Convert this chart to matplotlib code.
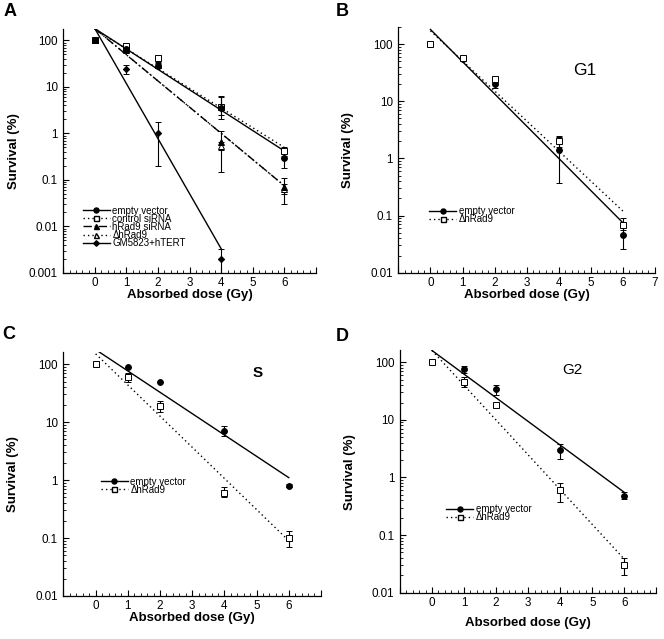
import numpy as np
import matplotlib
matplotlib.use("Agg")
import matplotlib.pyplot as plt
from matplotlib.ticker import FixedLocator, MultipleLocator, LogLocator, NullFormatter, FuncFormatter

plt.rcParams['font.family'] = ['Liberation Sans', 'DejaVu Sans']

# ---------------- data ----------------
dose = [0, 1, 2, 4, 6]

# panel A (asynchronous cells)
a_empty_y = [100, 65, 28, 3.5, 0.3]
a_empty_lo = [100, 65, 25, 2.0, 0.18]
a_empty_hi = [100, 65, 31, 6.3, 0.45]

a_ctrl_y = [100, 78, 42, 3.7, 0.42]
a_ctrl_lo = [100, 72, 38, 2.5, 0.33]
a_ctrl_hi = [100, 84, 46, 6.0, 0.52]

a_sirna_y = [100, 65, 30, 0.65, 0.07]
a_sirna_lo = [100, 62, 27, 0.15, 0.03]
a_sirna_hi = [100, 68, 33, 1.15, 0.11]

a_dh_y = [100, 62, 32, 0.55, 0.065]
a_dh_lo = [100, 60, 30, 0.45, 0.05]
a_dh_hi = [100, 64, 34, 0.65, 0.08]

a_gm_x = [0, 1, 2, 4]
a_gm_y = [100, 24, 1.0, 0.002]
a_gm_lo = [100, 19, 0.2, 0.001]
a_gm_hi = [100, 30, 1.8, 0.0033]

# fitted lines: value at start dose, value at end dose
a_fit_start = [180, 175, 180, 180, 180]
a_fit_end = [0.42, 0.5, 0.075, 0.075, 0.0033]
a_fit_xend = [6, 6, 6, 6, 4]

# panel B (G1)
b_empty_y = [100, 55, 20, 1.4, 0.045]
b_empty_lo = [100, 52, 17, 0.37, 0.026]
b_empty_hi = [100, 58, 23, 2.4, 0.065]
b_dh_y = [100, 58, 24, 2.0, 0.068]
b_dh_lo = [100, 55, 21, 1.6, 0.055]
b_dh_hi = [100, 62, 26, 2.5, 0.09]
b_fit_start = [180, 170]
b_fit_end = [0.075, 0.12]

# panel C (S)
c_empty_y = [100, 90, 50, 7.0, 0.8]
c_empty_lo = [100, 90, 50, 5.8, 0.75]
c_empty_hi = [100, 90, 50, 8.5, 0.85]
c_dh_y = [100, 60, 19, 0.6, 0.1]
c_dh_lo = [100, 50, 15, 0.5, 0.07]
c_dh_hi = [100, 70, 23, 0.75, 0.13]
c_fit_xstart = [0.1, 0]
c_fit_start = [163, 150]
c_fit_end = [1.1, 0.09]

# panel D (G2)
d_empty_y = [100, 75, 34, 3.0, 0.48]
d_empty_lo = [100, 64, 27, 2.1, 0.42]
d_empty_hi = [100, 86, 40, 3.8, 0.56]
d_dh_y = [100, 45, 18, 0.6, 0.03]
d_dh_lo = [100, 37, 17, 0.38, 0.02]
d_dh_hi = [100, 55, 19, 0.8, 0.04]
d_fit_start = [160, 160]
d_fit_end = [0.55, 0.038]


def setup_axes(ax, ymin, ymax, show7=False, xlab_y=-0.066):
    ax.set_yscale('log')
    ax.set_xlim(-1, 7)
    ax.set_ylim(ymin, ymax)
    for s in ['top', 'right']:
        ax.spines[s].set_visible(False)
    for s in ['left', 'bottom']:
        ax.spines[s].set_linewidth(0.9)
    xt = list(range(0, 8 if show7 else 7))
    ax.xaxis.set_major_locator(FixedLocator(list(range(-1, 8))))
    ax.xaxis.set_major_formatter(FuncFormatter(lambda v, p: '%d' % v if (v >= 0 and v in xt) else ''))
    ax.xaxis.set_minor_locator(MultipleLocator(0.2))
    decades = [10.0 ** k for k in range(int(np.log10(ymin)), 3)]
    ax.yaxis.set_major_locator(FixedLocator(decades))
    ax.yaxis.set_major_formatter(FuncFormatter(lambda v, p: '%g' % v))
    ax.yaxis.set_minor_locator(LogLocator(base=10, subs=np.arange(2, 10), numticks=20))
    ax.yaxis.set_minor_formatter(NullFormatter())
    ax.tick_params(which='major', direction='in', length=4, width=0.8, labelsize=8.4, pad=4)
    ax.tick_params(which='minor', direction='in', length=2.2, width=0.6)
    ax.tick_params(axis='x', which='major', pad=3)
    ax.set_xlabel('Absorbed dose (Gy)', fontsize=9.5, fontweight='bold', va='top')
    ax.xaxis.set_label_coords(0.5, xlab_y)
    ax.set_ylabel('Survival (%)', fontsize=9.5, fontweight='bold')
    ax.yaxis.set_label_coords(-0.173, 0.5)


def points(ax, x, y, lo, hi, marker, fc, ms=4.2):
    y = np.array(y)
    err = [y - np.array(lo), np.array(hi) - y]
    ax.errorbar(x, y, yerr=err, fmt=marker, mfc=fc, mec='black', color='black',
                ms=ms, mew=0.7, elinewidth=0.8, capsize=2, capthick=0.8, zorder=3)


def fitline(ax, x0, x1, y0, y1, ls):
    ax.plot([x0, x1], [y0, y1], color='black', ls=ls, lw=1.0, zorder=2)


def add_legend(ax, handles, anchor):
    ax.legend(handles=handles, loc='upper left', bbox_to_anchor=anchor, frameon=False,
              fontsize=7, handlelength=2.8, handletextpad=0.25, labelspacing=-0.2,
              borderpad=0, borderaxespad=0)


fig = plt.figure(figsize=(6.64, 6.39), dpi=100)

dotted = (0, (1, 2.2))
dashdot = (0, (6, 2, 1, 2))

# ---------------- panel A ----------------
axA = fig.add_axes([0.0953, 0.5728, 0.3806, 0.3824])
setup_axes(axA, 0.001, 180)
styles = ['-', dotted, dashdot, dotted, '-']
for i in range(5):
    fitline(axA, 0, a_fit_xend[i], a_fit_start[i], a_fit_end[i], styles[i])
points(axA, dose, a_ctrl_y, a_ctrl_lo, a_ctrl_hi, 's', 'white')
points(axA, dose, a_empty_y, a_empty_lo, a_empty_hi, 'o', 'black')
points(axA, dose, a_dh_y, a_dh_lo, a_dh_hi, '^', 'white')
points(axA, dose, a_sirna_y, a_sirna_lo, a_sirna_hi, '^', 'black')
points(axA, a_gm_x, a_gm_y, a_gm_lo, a_gm_hi, 'D', 'black', ms=3.2)
hA = [
    plt.Line2D([], [], color='black', ls='-', lw=1.0, marker='o', ms=3.6, mfc='black', mec='black', label='empty vector'),
    plt.Line2D([], [], color='black', ls=dotted, lw=1.0, marker='s', ms=3.6, mfc='white', mec='black', label='control siRNA'),
    plt.Line2D([], [], color='black', ls=dashdot, lw=1.0, marker='^', ms=3.6, mfc='black', mec='black', label='hRad9 siRNA'),
    plt.Line2D([], [], color='black', ls=dotted, lw=1.0, marker='^', ms=3.6, mfc='white', mec='black', label='\u0394hRad9'),
    plt.Line2D([], [], color='black', ls='-', lw=1.0, marker='D', ms=2.8, mfc='black', mec='black', label='GM5823+hTERT'),
]
add_legend(axA, hA, (0.077, 0.275))

# ---------------- panel B ----------------
axB = fig.add_axes([0.600, 0.5732, 0.3863, 0.3848])
setup_axes(axB, 0.01, 200, show7=True)
fitline(axB, 0, 6, b_fit_start[0], b_fit_end[0], '-')
fitline(axB, 0, 6, b_fit_start[1], b_fit_end[1], dotted)
points(axB, dose, b_empty_y, b_empty_lo, b_empty_hi, 'o', 'black')
points(axB, dose, b_dh_y, b_dh_lo, b_dh_hi, 's', 'white')
axB.text(4.82, 34, 'G1', fontsize=12.5, ha='center', va='center')
hB = [
    plt.Line2D([], [], color='black', ls='-', lw=1.0, marker='o', ms=3.6, mfc='black', label='empty vector'),
    plt.Line2D([], [], color='black', ls=dotted, lw=1.0, marker='s', ms=3.6, mfc='white', label='\u0394hRad9'),
]
add_legend(axB, hB, (0.12, 0.27))

# ---------------- panel C ----------------
axC = fig.add_axes([0.0956, 0.0673, 0.3877, 0.3815])
setup_axes(axC, 0.01, 160)
fitline(axC, c_fit_xstart[0], 6, c_fit_start[0], c_fit_end[0], '-')
fitline(axC, c_fit_xstart[1], 6, c_fit_start[1], c_fit_end[1], dotted)
points(axC, dose, c_empty_y, c_empty_lo, c_empty_hi, 'o', 'black')
points(axC, dose, c_dh_y, c_dh_lo, c_dh_hi, 's', 'white')
axC.text(5.05, 69, 'S', fontsize=11, fontweight='bold', ha='center', va='center')
hC = [
    plt.Line2D([], [], color='black', ls='-', lw=1.0, marker='o', ms=3.6, mfc='black', label='empty vector'),
    plt.Line2D([], [], color='black', ls=dotted, lw=1.0, marker='s', ms=3.6, mfc='white', label='\u0394hRad9'),
]
add_legend(axC, hC, (0.145, 0.49))

# ---------------- panel D ----------------
axD = fig.add_axes([0.6023, 0.0725, 0.3863, 0.379])
setup_axes(axD, 0.01, 160, xlab_y=-0.1)
fitline(axD, 0, 6, d_fit_start[0], d_fit_end[0], '-')
fitline(axD, 0, 6, d_fit_start[1], d_fit_end[1], dotted)
points(axD, dose, d_empty_y, d_empty_lo, d_empty_hi, 'o', 'black')
points(axD, dose, d_dh_y, d_dh_lo, d_dh_hi, 's', 'white')
axD.text(4.37, 73, 'G2', fontsize=11, ha='center', va='center')
hD = [
    plt.Line2D([], [], color='black', ls='-', lw=1.0, marker='o', ms=3.6, mfc='black', label='empty vector'),
    plt.Line2D([], [], color='black', ls=dotted, lw=1.0, marker='s', ms=3.6, mfc='white', label='\u0394hRad9'),
]
add_legend(axD, hD, (0.18, 0.365))

# panel letters
for lab, x, y in [('A', 0.006, 0.995), ('B', 0.506, 0.995), ('C', 0.003, 0.49), ('D', 0.506, 0.487)]:
    fig.text(x, y, lab, fontsize=13, fontweight='bold', ha='left', va='top')

fig.savefig('out.png', dpi=100)
